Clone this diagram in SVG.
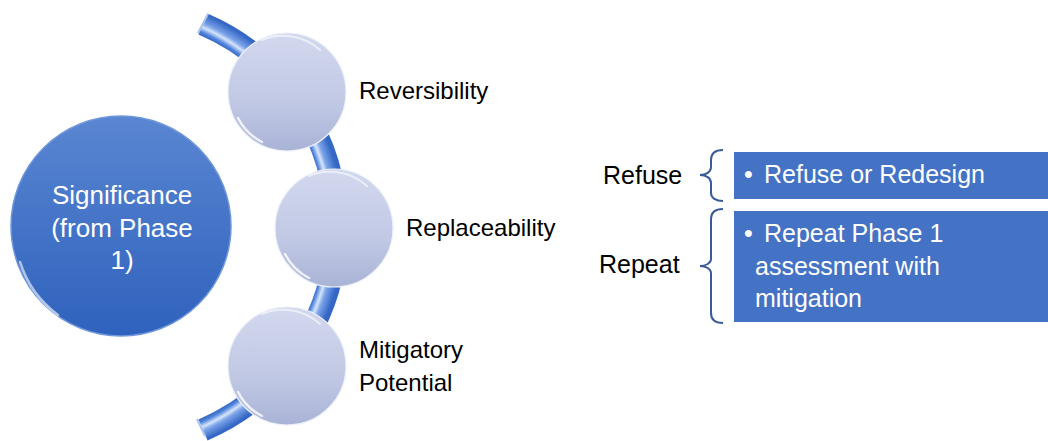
<svg xmlns="http://www.w3.org/2000/svg" width="1048" height="441" viewBox="0 0 1048 441">
<defs>
<style>
.lbl{font-family:"Liberation Sans",Arial,sans-serif;font-size:24px;fill:#000}
.side{font-family:"Liberation Sans",Arial,sans-serif;font-size:25px;fill:#000}
.wt{font-family:"Liberation Sans",Arial,sans-serif;font-size:25px;fill:#fff}
.big{font-family:"Liberation Sans",Arial,sans-serif;font-size:26px;fill:#fff}
.brace{fill:none;stroke:#3a5a98;stroke-width:2}
.box{fill:#4472c4}
.small{fill:url(#gSmall);stroke:#eef1fa;stroke-width:1.2}
.rim{fill:none;stroke:#ffffff;stroke-linecap:round}
</style>
<radialGradient id="gBand" gradientUnits="userSpaceOnUse" cx="112" cy="227" r="232">
<stop offset="0" stop-color="#2f5fb8"/>
<stop offset="0.905" stop-color="#2f5fb8"/>
<stop offset="0.925" stop-color="#4f83dc"/>
<stop offset="0.945" stop-color="#d6e4fa"/>
<stop offset="0.962" stop-color="#7aa3e8"/>
<stop offset="1" stop-color="#3568c6"/>
</radialGradient>
<linearGradient id="gBig" x1="0" y1="0" x2="0" y2="1">
<stop offset="0" stop-color="#5a86d2"/>
<stop offset="1" stop-color="#2f62bd"/>
</linearGradient>
<linearGradient id="gSmall" x1="0" y1="0" x2="0" y2="1">
<stop offset="0" stop-color="#d2d8ee"/>
<stop offset="0.6" stop-color="#c0c8e4"/>
<stop offset="1" stop-color="#a9b3d6"/>
</linearGradient>
</defs>
<rect width="1048" height="441" fill="#fff"/>

<g id="connectors">
<path d="M203,24 A221,221 0 0 1 203,430" fill="none" stroke="url(#gBand)" stroke-width="23"/>
<path d="M198,33 L208,14" stroke="#a9c3ef" stroke-width="2" fill="none"/>
<path d="M197,419 L205,436" stroke="#a9c3ef" stroke-width="2" fill="none"/>
</g>

<g id="significance">
<circle cx="121" cy="226" r="110" fill="url(#gBig)" stroke="#6f97db" stroke-width="1.5"/>
<path d="M20,262 A106,106 0 0 0 58,315" class="rim" stroke-width="2.5" opacity="0.6"/>
<text class="big" text-anchor="middle" x="122" y="204">Significance</text>
<text class="big" text-anchor="middle" x="122" y="237">(from Phase</text>
<text class="big" text-anchor="middle" x="122" y="269">1)</text>
</g>

<g id="reversibility">
<circle class="small" cx="287" cy="92" r="59"/>
<path d="M238,118 A55,55 0 0 0 262,142" class="rim" stroke-width="2.5" opacity="0.8"/>
<path d="M262,40 A55,55 0 0 1 320,50" class="rim" stroke-width="2" opacity="0.6"/>
<text class="lbl" x="359" y="99">Reversibility</text>
</g>

<g id="replaceability">
<circle class="small" cx="334" cy="228" r="59"/>
<path d="M285,254 A55,55 0 0 0 309,278" class="rim" stroke-width="2.5" opacity="0.8"/>
<path d="M309,176 A55,55 0 0 1 367,186" class="rim" stroke-width="2" opacity="0.6"/>
<text class="lbl" x="406" y="236">Replaceability</text>
</g>

<g id="mitigatory">
<circle class="small" cx="287" cy="366" r="59"/>
<path d="M238,392 A55,55 0 0 0 262,416" class="rim" stroke-width="2.5" opacity="0.8"/>
<path d="M262,314 A55,55 0 0 1 320,324" class="rim" stroke-width="2" opacity="0.6"/>
<text class="lbl" x="359" y="358">Mitigatory</text>
<text class="lbl" x="359" y="391">Potential</text>
</g>

<g id="refuse">
<text class="side" x="603" y="184">Refuse</text>
<path class="brace" d="M723,150 C716,150 711,153 711,160 L711,167 C711,172 706,175 700,175 C706,175 711,178 711,183 L711,193 C711,198 716,201 723,201"/>
<rect class="box" x="734" y="152" width="314" height="47"/>
<text class="wt" x="744" y="183">•</text>
<text class="wt" x="764" y="183">Refuse or Redesign</text>
</g>

<g id="repeat">
<text class="side" x="599" y="273">Repeat</text>
<path class="brace" d="M723,209 C716,209 711,212 711,219 L711,259 C711,263 706,266 700,266 C706,266 711,269 711,273 L711,313 C711,320 716,323 723,323"/>
<rect class="box" x="734" y="211" width="314" height="111"/>
<text class="wt" x="744" y="242">•</text>
<text class="wt" x="764" y="242">Repeat Phase 1</text>
<text class="wt" x="755" y="275">assessment with</text>
<text class="wt" x="755" y="307">mitigation</text>
</g>
</svg>
